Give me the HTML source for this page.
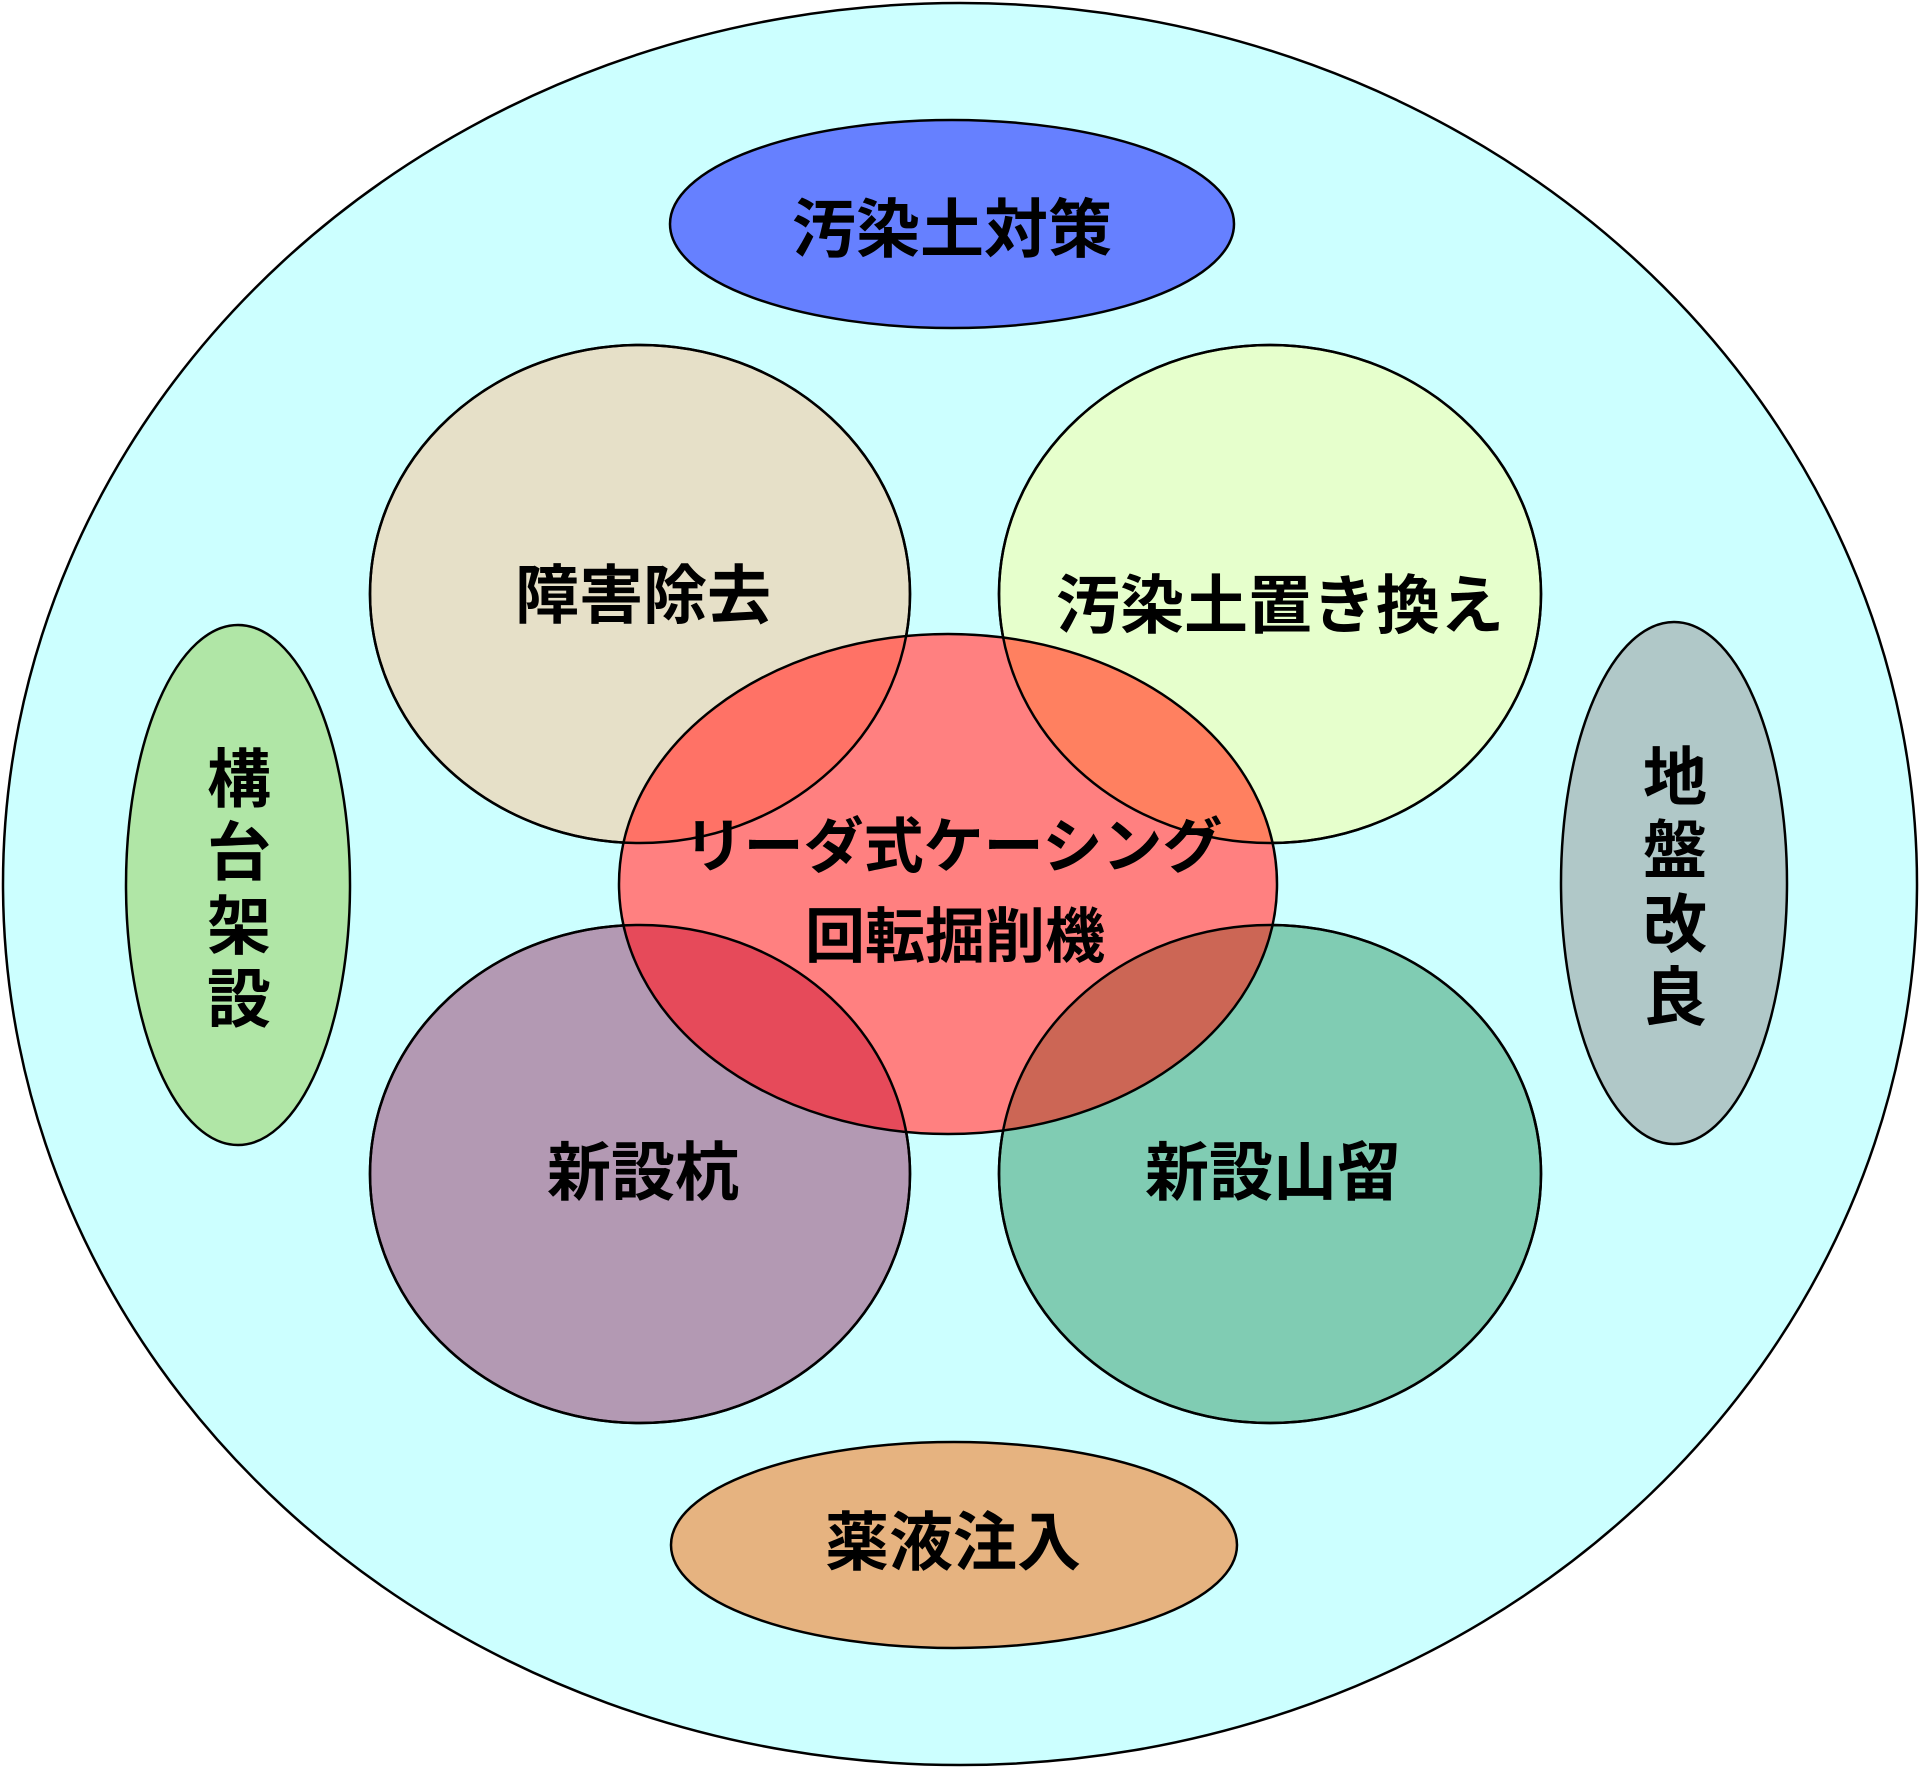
<!DOCTYPE html>
<html><head><meta charset="utf-8"><style>
html,body{margin:0;padding:0;background:#fff;}
svg{display:block;}
text{font-family:"Liberation Sans","Noto Sans CJK JP",sans-serif;font-weight:bold;font-size:64px;fill:#000;text-anchor:middle;dominant-baseline:central;}
text.c{font-size:60px;}
</style></head><body>
<svg width="1920" height="1768" viewBox="0 0 1920 1768" xmlns="http://www.w3.org/2000/svg">
<defs>
<clipPath id="c"><ellipse cx="948" cy="884" rx="329" ry="250"/></clipPath>
</defs>
<g stroke="#000" stroke-width="2.5">
<ellipse cx="960" cy="884" rx="957" ry="881" fill="#CCFFFF"/>
<ellipse cx="952" cy="224" rx="282" ry="104" fill="#6680FF"/>
<ellipse cx="640" cy="594" rx="270" ry="249" fill="#E6E0C8"/>
<ellipse cx="1270" cy="594" rx="271" ry="249" fill="#E6FFCC"/>
<ellipse cx="238" cy="885" rx="112" ry="260" fill="#B0E6A6"/>
<ellipse cx="1674" cy="883" rx="113" ry="261" fill="#B0C8C8"/>
<ellipse cx="640" cy="1174" rx="270" ry="249" fill="#B399B3"/>
<ellipse cx="1270" cy="1174" rx="271" ry="249" fill="#80CCB3"/>
<ellipse cx="954" cy="1545" rx="283" ry="103" fill="#E6B380"/>
<ellipse cx="948" cy="884" rx="329" ry="250" fill="#FF8080" stroke="none"/>
<g clip-path="url(#c)" stroke="none">
<ellipse cx="640" cy="594" rx="270" ry="249" fill="#FF7266"/>
<ellipse cx="1270" cy="594" rx="271" ry="249" fill="#FF8060"/>
<ellipse cx="640" cy="1174" rx="270" ry="249" fill="#E64A5A"/>
<ellipse cx="1270" cy="1174" rx="271" ry="249" fill="#CC6655"/>
</g>
<g fill="none">
<ellipse cx="640" cy="594" rx="270" ry="249"/>
<ellipse cx="1270" cy="594" rx="271" ry="249"/>
<ellipse cx="640" cy="1174" rx="270" ry="249"/>
<ellipse cx="1270" cy="1174" rx="271" ry="249"/>
<ellipse cx="948" cy="884" rx="329" ry="250"/>
</g>
</g>
<text x="952" y="230">汚染土対策</text>
<text x="643" y="596">障害除去</text>
<text x="1280" y="606">汚染土置き換え</text>
<text x="239" y="780">構</text><text x="239" y="853">台</text><text x="239" y="927">架</text><text x="239" y="1000">設</text>
<text x="1675" y="778">地</text><text x="1675" y="851">盤</text><text x="1675" y="925">改</text><text x="1675" y="998">良</text>
<text class="c" x="953" y="847">リーダ式ケーシング</text>
<text class="c" x="955" y="937">回転掘削機</text>
<text x="643" y="1173">新設杭</text>
<text x="1273" y="1173">新設山留</text>
<text x="953" y="1543">薬液注入</text>
</svg>
</body></html>
